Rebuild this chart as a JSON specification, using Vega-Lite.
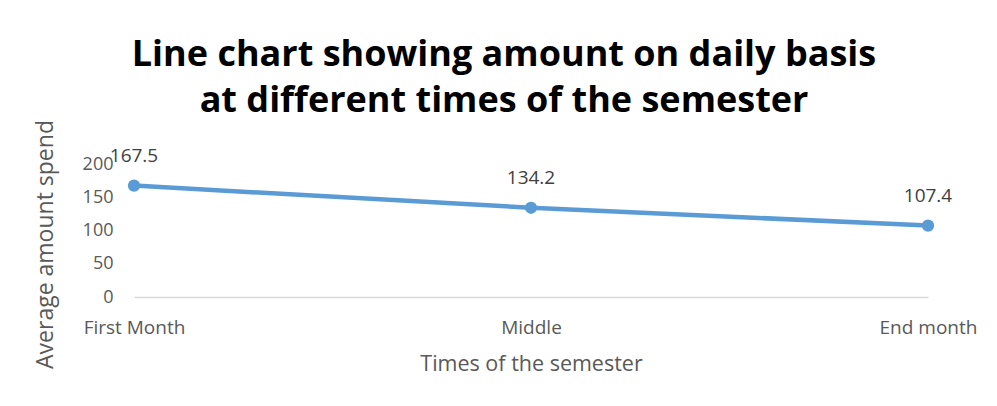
{
  "$schema": "https://vega.github.io/schema/vega-lite/v6.json",
  "autosize": "none",
  "width": 794,
  "height": 133,
  "padding": {"left": 134, "top": 164, "right": 69, "bottom": 109},
  "background": "white",
  "config": {"view": {"stroke": null}},
  "title": {
    "text": ["Line chart showing amount on daily basis", "at different times of the semester"],
    "font": "Open Sans",
    "fontSize": 36,
    "fontWeight": "bold",
    "color": "#000000",
    "lineHeight": 46,
    "anchor": "middle",
    "frame": "group",
    "baseline": "bottom",
    "dx": -27,
    "dy": 56,
    "offset": 20
  },
  "data": {
    "values": [
      {"time": "First Month", "amount": 167.5},
      {"time": "Middle", "amount": 134.2},
      {"time": "End month", "amount": 107.4}
    ]
  },
  "encoding": {
    "x": {
      "field": "time",
      "type": "ordinal",
      "sort": null,
      "scale": {"type": "point", "padding": 0},
      "axis": {
        "title": "Times of the semester",
        "labelAngle": 0,
        "labelFont": "Open Sans",
        "labelFontSize": 19,
        "labelColor": "#595959",
        "labelBaseline": "alphabetic",
        "labelPadding": 36,
        "ticks": false,
        "domainColor": "#D9D9D9",
        "domainWidth": 1.5,
        "grid": false,
        "titleFont": "Open Sans",
        "titleFontSize": 21.5,
        "titleFontWeight": "normal",
        "titleColor": "#595959",
        "titleBaseline": "alphabetic",
        "titleY": 73
      }
    },
    "y": {
      "field": "amount",
      "type": "quantitative",
      "scale": {"domain": [0, 200]},
      "axis": {
        "title": "Average amount spend",
        "values": [0, 50, 100, 150, 200],
        "labelFont": "Open Sans",
        "labelFontSize": 18,
        "labelColor": "#595959",
        "labelPadding": 21,
        "ticks": false,
        "domain": false,
        "grid": false,
        "titleFont": "Open Sans",
        "titleFontSize": 23,
        "titleFontWeight": "normal",
        "titleColor": "#595959",
        "titleAngle": -90,
        "titleAlign": "center",
        "titleBaseline": "middle",
        "titleX": -89,
        "titleY": 80
      }
    }
  },
  "layer": [
    {
      "mark": {"type": "line", "color": "#5B9BD5", "strokeWidth": 4.5, "point": {"filled": true, "size": 150, "color": "#5B9BD5"}}
    },
    {
      "mark": {"type": "text", "dy": -30, "baseline": "middle", "font": "Open Sans", "fontSize": 19, "color": "#404040"},
      "encoding": {"text": {"field": "amount", "type": "quantitative", "format": ".1f"}}
    }
  ]
}
